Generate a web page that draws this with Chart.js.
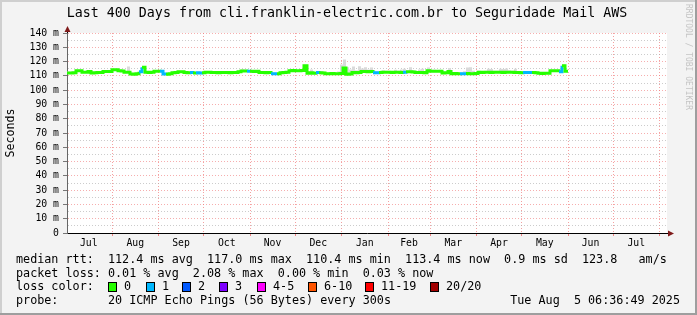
<!DOCTYPE html>
<html><head><meta charset="utf-8">
<script src="https://cdn.jsdelivr.net/npm/chart.js@4/dist/chart.umd.min.js"></script>
<style>html,body{margin:0;padding:0;background:#f3f3f3;}#wrap{width:697px;height:315px;position:relative}</style>
</head><body><div id="wrap"><canvas id="c" width="697" height="315"></canvas></div>
<script>
// ---------- data ----------
const chartTitle = "Last 400 Days from cli.franklin-electric.com.br to Seguridade Mail AWS";
const yAxisTitle = "Seconds";
const monthLabels = ['Jul','Aug','Sep','Oct','Nov','Dec','Jan','Feb','Mar','Apr','May','Jun','Jul'];
const monthStartDays = [-1,30,61,91,122,152,183,214,242,273,303,334,364,395];
const sampleStepDays = 2;
// median rtt (ms), one sample every 2 days from day 0
const medianRtt = [
112.0,112.0,112.1,113.6,113.5,112.5,112.6,113.0,112.0,112.1,
112.3,112.4,113.0,113.1,113.0,114.2,114.2,113.5,113.4,112.5,
112.6,111.3,111.1,111.4,112.8,116.0,112.5,112.4,112.6,113.3,
113.3,113.2,111.3,111.2,111.5,112.2,112.3,112.8,112.8,112.3,
112.2,112.3,112.0,112.1,112.0,112.1,112.6,112.6,112.3,112.4,
112.2,112.3,112.3,112.4,112.2,112.3,112.4,112.8,113.4,113.4,
113.3,113.2,113.1,113.2,112.3,112.4,112.2,112.3,111.5,111.4,
111.5,112.2,112.3,112.5,113.6,113.7,113.5,113.6,113.8,117.0,
111.9,112.2,111.8,112.3,112.2,112.0,111.5,111.5,111.6,111.5,
111.4,111.6,115.5,111.2,111.3,112.3,112.2,112.4,113.0,113.1,
112.9,113.0,112.2,112.2,112.3,112.5,112.6,112.5,112.4,112.6,
112.5,112.4,112.6,112.8,112.8,112.7,112.3,112.4,112.3,112.2,
113.5,113.3,113.3,113.2,113.3,112.0,112.1,113.0,111.5,111.6,
111.4,111.5,111.5,111.6,111.5,111.4,111.6,112.5,112.4,112.6,
112.5,112.4,112.5,112.6,112.5,112.4,112.5,112.6,112.5,112.3,
112.4,112.2,112.3,112.3,112.4,112.3,112.2,111.8,111.7,111.8,
111.9,113.6,113.6,113.5,112.8,117.0,113.2,113.2
];
// upper edge of the smoke (ms)
const smokeTop = [
113.0,112.9,113.0,114.4,114.3,113.4,113.5,113.8,112.9,113.0,
113.1,113.2,113.8,113.9,113.8,115.0,115.0,114.3,114.2,113.3,
116.5,112.2,112.0,112.3,113.7,116.8,113.3,113.2,113.4,114.1,
114.1,114.0,112.2,112.1,112.3,113.0,113.1,113.6,113.6,113.1,
113.0,113.1,112.9,112.9,112.8,112.9,113.4,113.4,113.1,113.2,
113.0,113.1,113.1,113.2,113.0,113.1,113.2,113.6,114.6,114.4,
114.1,114.0,113.9,114.0,113.1,113.2,113.0,113.1,112.3,112.2,
112.3,113.0,113.1,113.3,114.4,114.5,114.3,114.4,114.6,117.8,
113.0,114.5,112.8,113.2,113.2,113.0,112.5,112.6,112.6,112.5,
113.0,118.0,121.5,116.0,114.5,116.5,114.0,116.8,115.2,116.0,
114.5,115.8,113.5,113.2,113.3,114.0,113.6,113.5,113.4,114.2,
113.5,114.5,115.0,113.8,116.0,114.0,113.3,114.5,115.0,113.2,
115.8,114.3,114.2,114.0,114.3,113.0,113.0,115.5,112.5,112.6,
112.4,112.5,113.2,115.8,116.0,113.5,112.6,113.5,113.4,113.6,
115.0,114.8,113.5,113.6,115.0,114.8,115.2,114.0,113.5,115.0,
113.4,113.2,113.3,113.2,113.3,113.2,113.1,112.6,112.5,112.6,
112.7,114.4,114.4,114.3,113.6,118.0,114.0,114.0
];
// samples with packet loss (day, lost pings of 20)
const lossDays   = [50,64,66,84,88,90,122,138,140,168,206,208,226,264,266,306,308,310,330];
const lossCounts = [ 1, 1, 1, 1, 1, 1,  1,  1,  1,  1,  1,  1,  1,  1,  1,  1,  1,  1,  1];
const lossLegendLabels = ['0','1','2','3','4-5','6-10','11-19','20/20'];
const lossLegendColors = ['#26ff00','#00b8ff','#0059ff','#7e00ff','#ff00ff','#ff5500','#ff0000','#a10000'];
const statsLine1 = 'median rtt:  112.4 ms avg  117.0 ms max  110.4 ms min  113.4 ms now  0.9 ms sd  123.8   am/s';
const statsLine2 = 'packet loss: 0.01 % avg  2.08 % max  0.00 % min  0.03 % now';
const lossLabel = 'loss color:';
const probeLabel = 'probe:';
const probeText = '20 ICMP Echo Pings (56 Bytes) every 300s';
const stampText = 'Tue Aug  5 06:36:49 2025';
const watermark = 'RRDTOOL / TOBI OETIKER';

// ---------- build ----------
const lossAt = {};
lossDays.forEach((d,i)=>{ lossAt[d]=lossCounts[i]; });
function lossColor(n){
  if(!n) return lossLegendColors[0];
  if(n===1) return lossLegendColors[1];
  if(n===2) return lossLegendColors[2];
  if(n===3) return lossLegendColors[3];
  if(n<=5) return lossLegendColors[4];
  if(n<=10) return lossLegendColors[5];
  if(n<=19) return lossLegendColors[6];
  return lossLegendColors[7];
}
const medianPts = medianRtt.map((v,i)=>({x:i*sampleStepDays, y:v}));
const smokePts = smokeTop.map((v,i)=>({x:i*sampleStepDays, y:v}));
const boundarySet = new Set(monthStartDays.filter(d=>d>=0 && d<=400));
const midDays = monthLabels.map((m,i)=>(monthStartDays[i]+monthStartDays[i+1])/2);

const MONO = "'DejaVu Sans Mono', monospace";

const decor = {
  id:'decor',
  beforeDraw(chart){
    const {ctx, chartArea:a} = chart;
    ctx.save();
    ctx.fillStyle='#f3f3f3'; ctx.fillRect(0,0,697,315);
    ctx.fillStyle='#cfcfcf'; ctx.fillRect(0,0,697,2); ctx.fillRect(0,0,2,315);
    ctx.fillStyle='#9e9e9e'; ctx.fillRect(0,313,697,2); ctx.fillRect(695,0,2,315);
    ctx.fillStyle='#ffffff'; ctx.fillRect(a.left,a.top,a.right-a.left,a.bottom-a.top);
    ctx.restore();
  },
  afterDraw(chart){
    const {ctx, chartArea:a} = chart;
    ctx.save();
    ctx.strokeStyle='#000'; ctx.lineWidth=1;
    ctx.beginPath(); ctx.moveTo(a.left+0.5,a.top); ctx.lineTo(a.left+0.5,a.top-3); ctx.stroke();
    ctx.beginPath(); ctx.moveTo(a.right,a.bottom+0.5); ctx.lineTo(a.right+3,a.bottom+0.5); ctx.stroke();
    ctx.fillStyle='#7f1a1a';
    ctx.beginPath(); ctx.moveTo(a.left-2.5,a.top-1); ctx.lineTo(a.left+3.5,a.top-1); ctx.lineTo(a.left+0.5,a.top-7); ctx.closePath(); ctx.fill();
    ctx.beginPath(); ctx.moveTo(a.right+1,a.bottom-2.5); ctx.lineTo(a.right+1,a.bottom+3.5); ctx.lineTo(a.right+7,a.bottom+0.5); ctx.closePath(); ctx.fill();
    ctx.fillStyle='#000'; ctx.textBaseline='middle';
    ctx.font = "13.3px "+MONO; ctx.textAlign='center';
    ctx.fillText(chartTitle, 347, 14);
    ctx.font = "11.76px "+MONO; ctx.textAlign='left';
    ctx.fillText(statsLine1,16,259.5);
    ctx.fillText(statsLine2,16,273.5);
    ctx.fillText(lossLabel,16,287);
    const bx=[108,146,182,219,257,308,365,430];
    lossLegendLabels.forEach((t,i)=>{
      ctx.fillStyle=lossLegendColors[i]; ctx.fillRect(bx[i],282,9,10);
      ctx.strokeStyle='#000'; ctx.lineWidth=1; ctx.strokeRect(bx[i]+0.5,282.5,8,9);
      ctx.fillStyle='#000'; ctx.fillText(t,bx[i]+16,287);
    });
    ctx.fillText(probeLabel,16,301);
    ctx.fillText(probeText,108,301);
    ctx.textAlign='right';
    ctx.fillText(stampText,680,301);
    ctx.translate(688,4); ctx.rotate(Math.PI/2);
    ctx.font="8px "+MONO; ctx.fillStyle='#c4c4c4'; ctx.textAlign='left'; ctx.textBaseline='middle';
    ctx.fillText(watermark,0,0);
    ctx.restore();
  }
};

new Chart(document.getElementById('c'),{
  type:'line',
  data:{datasets:[
    {data:medianPts, borderWidth:3, pointRadius:0, stepped:true, fill:false,
     borderColor:'#26ff00',
     segment:{borderColor: c => lossColor(lossAt[medianPts[c.p1DataIndex].x])}},
    {data:smokePts, borderWidth:0, pointRadius:0, stepped:true,
     backgroundColor:'#dadada', borderColor:'rgba(0,0,0,0)', fill:{target:0}}
  ]},
  plugins:[decor],
  options:{
    responsive:false, animation:false, devicePixelRatio:1,
    layout:{padding:{left:0,right:30,top:33,bottom:0}},
    plugins:{legend:{display:false}, tooltip:{enabled:false}, title:{display:false}},
    scales:{
      x:{type:'linear', min:0, max:400,
        afterBuildTicks(s){
          const t=[...boundarySet, ...midDays].sort((p,q)=>p-q);
          s.ticks=t.map(v=>({value:v}));
        },
        afterFit(s){ s.height=82; },
        ticks:{autoSkip:false, maxRotation:0, padding:2, color:'#000', font:{family:MONO,size:9.8},
          callback:(v)=>{const i=midDays.indexOf(v); return i>=0?monthLabels[i]:'';}},
        grid:{color:c=>boundarySet.has(c.tick.value)?'rgba(240,120,120,0.7)':'rgba(0,0,0,0)',
              tickColor:c=>boundarySet.has(c.tick.value)?'rgba(240,120,120,0.9)':'rgba(0,0,0,0)',
              tickLength:3, lineWidth:1},
        border:{color:'#000', width:1, dash:[1,2]}
      },
      y:{min:0, max:140,
        afterBuildTicks(s){ const t=[]; for(let v=0; v<=140; v+=5) t.push({value:v}); s.ticks=t; },
        afterFit(s){ s.width=67; },
        ticks:{autoSkip:false, padding:4, color:'#000', font:{family:MONO,size:9.8},
          callback:v=> v%10===0 ? (v===0?'0':v+' m') : ''},
        grid:{color:c=> c.tick.value===0 ? 'rgba(0,0,0,0)' : (c.tick.value%10===0?'rgba(240,120,120,0.6)':'rgba(170,170,170,0.6)'),
              tickColor:c=> c.tick.value%10===0?'#777':'rgba(0,0,0,0)', tickLength:4},
        border:{color:'#666', width:1, dash:[1,2]},
        title:{display:true, text:yAxisTitle, color:'#000', font:{family:MONO,size:11.6}, padding:{top:4,bottom:0}}
      }
    }
  }
});
</script></body></html>
